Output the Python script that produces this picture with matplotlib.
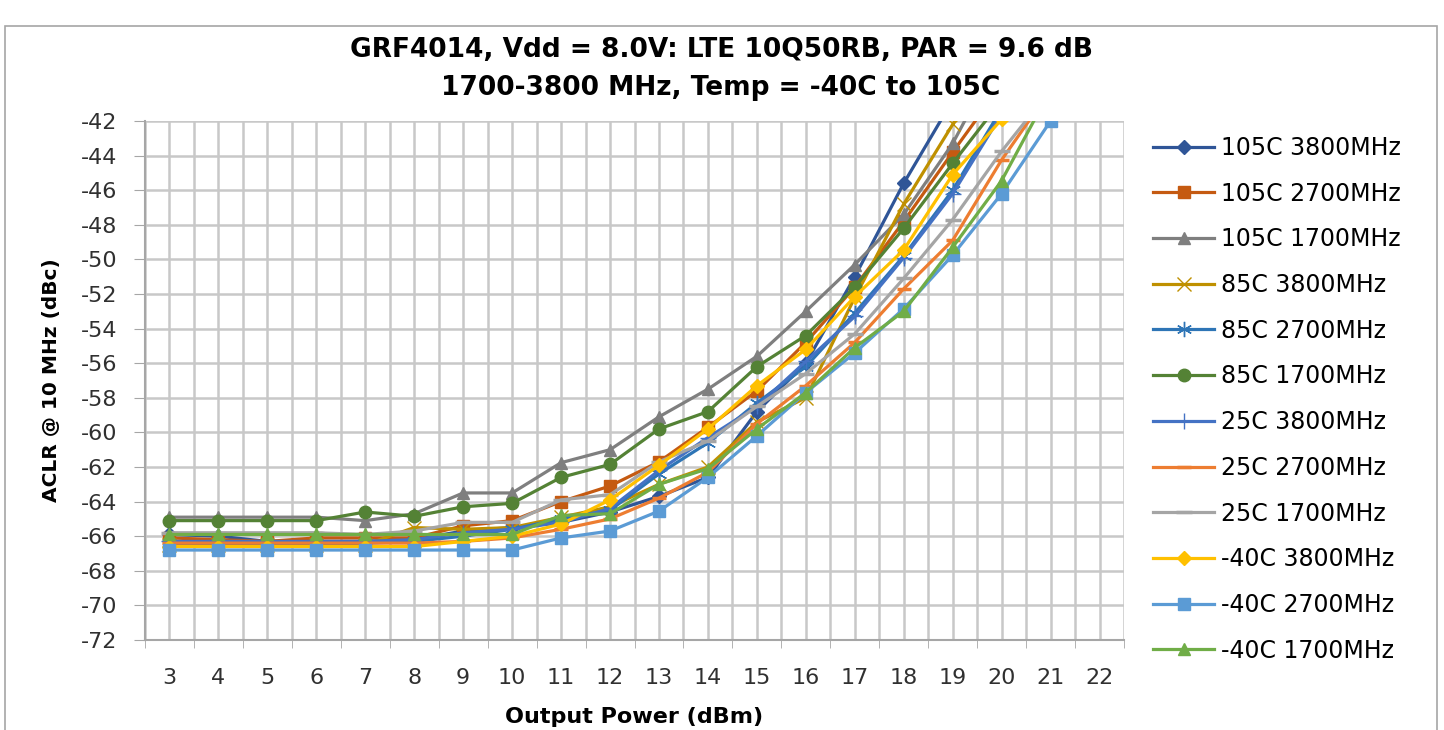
import numpy as np
import matplotlib
matplotlib.use("Agg")
import matplotlib.pyplot as plt
from matplotlib.patches import Rectangle

plt.rcParams['axes.unicode_minus'] = False

# output power (dBm), category axis
power = [3, 4, 5, 6, 7, 8, 9, 10, 11, 12, 13, 14, 15, 16, 17, 18, 19, 20, 21, 22]

# ACLR @ 10 MHz (dBc), starting at 3 dBm
aclr_105_3800 = [-65.9, -66.0, -66.3, -66.3, -66.3, -66.2, -65.7, -65.5, -65.2, -64.6,
                 -63.7, -62.6, -58.8, -56.0, -51.0, -45.6, -40.8]
aclr_105_2700 = [-66.1, -66.2, -66.3, -66.1, -66.1, -66.1, -65.4, -65.1, -64.0, -63.1,
                 -61.7, -59.7, -57.6, -54.8, -51.6, -47.8, -43.8, -39.9]
aclr_105_1700 = [-64.9, -64.9, -64.9, -64.9, -65.1, -64.7, -63.5, -63.5, -61.75, -61.0,
                 -59.1, -57.5, -55.6, -53.0, -50.3, -47.4, -43.3, -38.0]
aclr_85_3800 = [-66.5, -66.5, -66.5, -66.5, -66.5, -65.5, -65.6, -65.5, -64.9, -64.3,
                -63.0, -62.0, -59.4, -58.0, -52.2, -46.8, -42.2, -37.5]
aclr_85_2700 = [-66.4, -66.4, -66.4, -66.4, -66.4, -66.3, -66.0, -65.6, -65.0, -64.5,
                -62.4, -60.6, -58.3, -56.2, -53.1, -49.8, -46.0, -41.3]
aclr_85_1700 = [-65.1, -65.1, -65.1, -65.1, -64.6, -64.85, -64.3, -64.1, -62.6, -61.85,
                -59.8, -58.8, -56.2, -54.4, -51.6, -48.2, -44.45, -40.8]
aclr_25_3800 = [-66.3, -66.3, -66.3, -66.3, -66.3, -66.2, -65.8, -65.6, -65.2, -64.4,
                -62.2, -60.3, -58.5, -55.9, -53.3, -49.9, -46.2, -41.6]
aclr_25_2700 = [-66.4, -66.4, -66.4, -66.4, -66.4, -66.4, -66.3, -66.1, -65.6, -65.0,
                -63.8, -62.3, -59.5, -57.3, -54.8, -51.7, -48.9, -44.25, -40.2]
aclr_25_1700 = [-65.8, -65.8, -65.8, -65.8, -65.9, -65.7, -65.2, -65.2, -63.9, -63.6,
                -61.7, -60.5, -58.5, -56.6, -54.3, -51.1, -47.7, -43.75, -40.2]
aclr_m40_3800 = [-66.6, -66.6, -66.6, -66.6, -66.6, -66.6, -66.3, -66.0, -65.3, -63.9,
                 -61.9, -59.8, -57.3, -55.2, -52.15, -49.45, -45.1, -41.9]
aclr_m40_2700 = [-66.8, -66.8, -66.8, -66.8, -66.8, -66.8, -66.8, -66.8, -66.1, -65.7,
                 -64.55, -62.6, -60.2, -57.7, -55.4, -52.85, -49.75, -46.2, -42.0]
aclr_m40_1700 = [-65.9, -65.9, -65.9, -65.9, -65.9, -65.9, -65.9, -65.9, -64.8, -64.7,
                 -63.0, -62.1, -59.8, -57.7, -55.1, -53.0, -49.3, -45.45, -40.2]

labels = ["105C 3800MHz", "105C 2700MHz", "105C 1700MHz",
          "85C 3800MHz", "85C 2700MHz", "85C 1700MHz",
          "25C 3800MHz", "25C 2700MHz", "25C 1700MHz",
          "-40C 3800MHz", "-40C 2700MHz", "-40C 1700MHz"]
series = [aclr_105_3800, aclr_105_2700, aclr_105_1700,
          aclr_85_3800, aclr_85_2700, aclr_85_1700,
          aclr_25_3800, aclr_25_2700, aclr_25_1700,
          aclr_m40_3800, aclr_m40_2700, aclr_m40_1700]

colors = ["#2F5597", "#C55A11", "#7F7F7F", "#BF9000", "#2E75B6", "#548235",
          "#4472C4", "#ED7D31", "#A5A5A5", "#FFC000", "#5B9BD5", "#70AD47"]
# marker, size, edge width
markers = [("D", 7, 1), ("s", 8, 1), ("^", 9, 1), ("x", 10, 1), ((6, 2, 0), 11, 1),
           ("o", 9, 1), ("+", 11, 1), ("_", 10, 2.5), ("_", 12, 2.5),
           ("D", 7, 1), ("s", 8, 1), ("^", 9, 1)]

W, H = 1444, 730
fig = plt.figure(figsize=(W / 100, H / 100), dpi=100)
ax = fig.add_axes([145 / W, 1 - 640 / H, (1124 - 145) / W, (640 - 121) / H])

for vals, lab, col, (m, ms, mew) in zip(series, labels, colors, markers):
    xs = power[:len(vals)]
    ax.plot(xs, vals, color=col, lw=2.3, marker=m, ms=ms, mew=mew,
            mec=col, mfc=col, label=lab, solid_joinstyle="round")

ax.set_xlim(2.5, 22.5)
ax.set_ylim(-72, -42)
ax.set_xticks(power)
ax.set_xticks(np.arange(2.5, 23, 1), minor=True)
ax.set_yticks(np.arange(-72, -41, 2))
ax.tick_params(axis="x", which="major", length=0, labelsize=16, pad=20, colors="#303030")
ax.tick_params(axis="x", which="minor", length=6, color="#A6A6A6")
ax.tick_params(axis="y", length=8, labelsize=16, pad=12, colors="#303030")
ax.tick_params(axis="y", color="#A6A6A6")

ax.grid(True, which="both", axis="x", color="#C8C8C8", lw=1.8)
ax.grid(True, which="major", axis="y", color="#C8C8C8", lw=1.8)
ax.set_axisbelow(True)
for s in ["top", "right"]:
    ax.spines[s].set_visible(False)
for s in ["left", "bottom"]:
    ax.spines[s].set_color("#A6A6A6")
    ax.spines[s].set_linewidth(1.5)

ax.set_xlabel("Output Power (dBm)", fontsize=16, fontweight="bold", labelpad=14)
ax.set_ylabel("ACLR @ 10 MHz (dBc)", fontsize=14.5, fontweight="bold", labelpad=14)

fig.text(721 / W, 1 - 50 / H, "GRF4014, Vdd = 8.0V: LTE 10Q50RB, PAR = 9.6 dB",
         ha="center", va="center", fontsize=19, fontweight="bold")
fig.text(721 / W, 1 - 88 / H, "1700-3800 MHz, Temp = -40C to 105C",
         ha="center", va="center", fontsize=19, fontweight="bold")

leg = ax.legend(loc="upper left", bbox_to_anchor=(1141 / W, 1 - 124 / H),
                bbox_transform=fig.transFigure, frameon=False, fontsize=17,
                handlelength=2.6, handletextpad=0.3, labelspacing=0.92, borderpad=0)

fig.add_artist(Rectangle((5 / W, -0.05), (1437 - 5) / W, 1.05 - 26 / H,
                         transform=fig.transFigure, fill=False,
                         edgecolor="#A6A6A6", lw=1.2))

fig.savefig("out.png", dpi=100)
